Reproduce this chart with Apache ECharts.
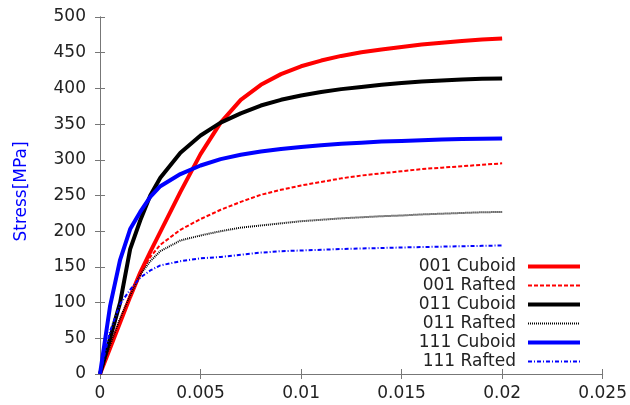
<!DOCTYPE html>
<html lang="EN">
<head>
    <meta charset="utf-8">
    <script src="https://cdn.jsdelivr.net/npm/echarts@6/dist/echarts.min.js"></script>
</head>
<body style="margin:0;background:#fff;">
<div id="main" style="width:630px;height:405px;"></div>
<script>
    var strain = [0, 0.0005, 0.001, 0.0015, 0.002, 0.0025, 0.003, 0.004, 0.005, 0.006, 0.007,
        0.008, 0.009, 0.010, 0.011, 0.012, 0.013, 0.014, 0.015, 0.016, 0.017, 0.018, 0.019, 0.020];

    var cuboid001 = [0, 36, 72, 108, 142, 171, 199, 255, 308, 352, 384,
        405, 420, 431, 439, 445.5, 450.5, 454.5, 458, 461.5, 464, 466.5, 468.5, 470];
    var rafted001 = [0, 36, 72, 108, 141, 164, 181, 202, 217, 230, 241,
        251, 258, 264, 269, 274, 278, 281, 284, 287, 289, 291, 293, 295];
    var cuboid011 = [0, 50, 100, 175, 215, 250, 275, 310, 334, 352, 365,
        376, 384, 390, 395, 399, 402, 405, 407.5, 409.5, 411, 412.5, 413.5, 414];
    var rafted011 = [0, 40, 78, 110, 139, 158, 172, 187, 194, 200, 205,
        208, 211, 214, 216, 218, 219.5, 221, 222, 223.5, 224.5, 225.5, 226.5, 227];
    var cuboid111 = [0, 95, 160, 203, 227, 248, 263, 280, 292, 301, 307,
        311.5, 315, 318, 320.5, 322.5, 324, 325.5, 326.5, 327.5, 328.3, 329, 329.5, 330];
    var rafted111 = [0, 60, 98, 118, 135, 145, 152, 158, 162, 164, 167,
        170, 172, 173, 174, 175, 175.8, 176.5, 177.2, 177.8, 178.4, 179, 179.5, 180];

    var xTicks = ['0', '0.005', '0.01', '0.015', '0.02', '0.025'];

    function pairs(ys) {
        return strain.map(function (x, i) { return [x, ys[i]]; });
    }

    var font = 'DejaVu Sans';
    var axisColor = '#777';

    function line(name, ys, color, width, type) {
        return {
            name: name,
            type: 'line',
            symbol: 'none',
            data: pairs(ys),
            lineStyle: { color: color, width: width, type: type },
            itemStyle: { color: color }
        };
    }

    function legendItem(name, width) {
        return { name: name, lineStyle: { width: width } };
    }

    var chart = echarts.init(document.getElementById('main'));
    chart.setOption({
        animation: false,
        textStyle: { fontFamily: font },
        grid: { left: 100, top: 17, width: 503, height: 357 },
        legend: {
            orient: 'vertical',
            align: 'right',
            right: 43,
            top: 253,
            itemWidth: 52,
            itemHeight: 14,
            itemGap: 2,
            itemStyle: { opacity: 0 },
            textStyle: { fontSize: 17, color: '#222', padding: [0, 7, 0, 0] },
            data: [
                legendItem('001 Cuboid', 4), legendItem('001 Rafted', 2),
                legendItem('011 Cuboid', 4), legendItem('011 Rafted', 2),
                legendItem('111 Cuboid', 4), legendItem('111 Rafted', 2)
            ]
        },
        xAxis: [{
            type: 'value', min: 0, max: 0.025, interval: 0.005,
            axisLine: { lineStyle: { color: axisColor } },
            axisTick: { inside: true, length: 5, lineStyle: { color: axisColor } },
            axisLabel: {
                fontSize: 17, color: '#222', margin: 11,
                formatter: function (v) { return xTicks[Math.round(v / 0.005)]; }
            },
            splitLine: { show: false }
        }, {
            type: 'value', position: 'top', min: 0, max: 0.025, interval: 0.005,
            axisLine: { lineStyle: { color: axisColor } },
            axisTick: { inside: true, length: 5, lineStyle: { color: axisColor } },
            axisLabel: { show: false },
            splitLine: { show: false }
        }],
        yAxis: [{
            type: 'value', min: 0, max: 500, interval: 50,
            name: 'Stress[MPa]', nameLocation: 'middle', nameGap: 70,
            nameTextStyle: { color: '#0000ff', fontSize: 17, padding: [0, 0, 0, 8] },
            axisLine: { show: true, lineStyle: { color: axisColor } },
            axisTick: { show: true, inside: true, length: 5, lineStyle: { color: axisColor } },
            axisLabel: { fontSize: 17, color: '#222', margin: 14 },
            splitLine: { show: false }
        }, {
            type: 'value', position: 'right', min: 0, max: 500, interval: 50,
            axisLine: { show: true, lineStyle: { color: axisColor } },
            axisTick: { show: true, inside: true, length: 5, lineStyle: { color: axisColor } },
            axisLabel: { show: false },
            splitLine: { show: false }
        }],
        series: [
            line('001 Cuboid', cuboid001, '#ff0000', 4, 'solid'),
            line('001 Rafted', rafted001, '#ff0000', 2, [4, 2]),
            line('011 Cuboid', cuboid011, '#000000', 4, 'solid'),
            line('011 Rafted', rafted011, '#000000', 2, [1, 1]),
            line('111 Cuboid', cuboid111, '#0000ff', 4, 'solid'),
            line('111 Rafted', rafted111, '#0000ff', 2, [4, 2, 1, 2])
        ]
    });
</script>
</body>
</html>
